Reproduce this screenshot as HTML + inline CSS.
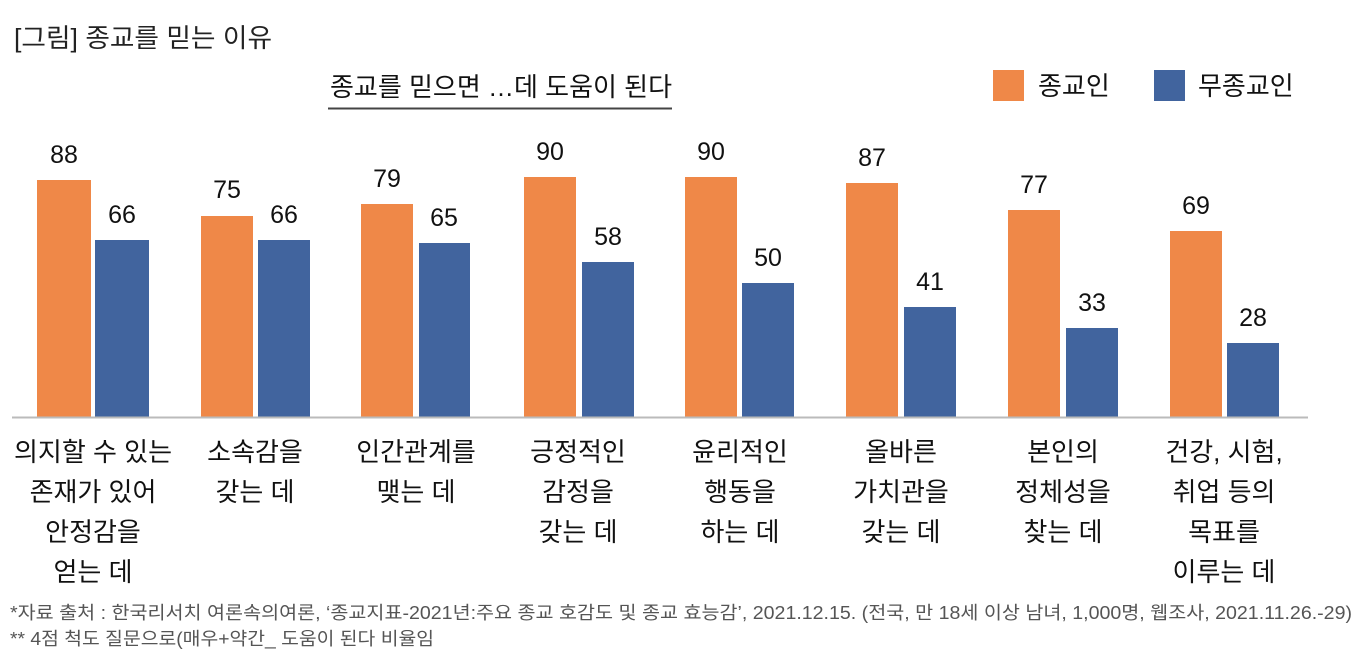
<!DOCTYPE html>
<html><head><meta charset="utf-8"><style>
html,body{margin:0;padding:0;background:#fff;}
svg{display:block;font-family:"Liberation Sans","Noto Sans CJK KR",sans-serif;}
</style></head><body>
<svg width="1370" height="670" viewBox="0 0 1370 670" xmlns="http://www.w3.org/2000/svg">
<text x="14" y="47" font-size="26" fill="#222" textLength="258" lengthAdjust="spacingAndGlyphs">[그림] 종교를 믿는 이유</text>
<text x="330" y="96" font-size="26" fill="#111" textLength="342" lengthAdjust="spacingAndGlyphs">종교를 믿으면 …데 도움이 된다</text>
<line x1="328" y1="108.5" x2="672" y2="108.5" stroke="#444" stroke-width="2"/>
<rect x="993" y="70" width="31" height="31" fill="#EF8848"/>
<text x="1038" y="95" font-size="26" fill="#111">종교인</text>
<rect x="1154" y="70" width="31" height="31" fill="#41649E"/>
<text x="1198" y="95" font-size="26" fill="#111">무종교인</text>
<g font-size="25" fill="#111" text-anchor="middle">
<rect x="37" y="180" width="54" height="237" fill="#EF8848"/><text x="64" y="163">88</text>
<rect x="95" y="240" width="54" height="177" fill="#41649E"/><text x="122" y="223">66</text>
<rect x="201" y="216" width="52" height="201" fill="#EF8848"/><text x="227" y="198">75</text>
<rect x="258" y="240" width="52" height="177" fill="#41649E"/><text x="284" y="223">66</text>
<rect x="361" y="204" width="52" height="213" fill="#EF8848"/><text x="387" y="187">79</text>
<rect x="419" y="243" width="51" height="174" fill="#41649E"/><text x="444" y="226">65</text>
<rect x="524" y="177" width="52" height="240" fill="#EF8848"/><text x="550" y="160">90</text>
<rect x="582" y="262" width="52" height="155" fill="#41649E"/><text x="608" y="245">58</text>
<rect x="685" y="177" width="52" height="240" fill="#EF8848"/><text x="711" y="160">90</text>
<rect x="742" y="283" width="52" height="134" fill="#41649E"/><text x="768" y="266">50</text>
<rect x="846" y="183" width="52" height="234" fill="#EF8848"/><text x="872" y="166">87</text>
<rect x="904" y="307" width="52" height="110" fill="#41649E"/><text x="930" y="290">41</text>
<rect x="1008" y="210" width="52" height="207" fill="#EF8848"/><text x="1034" y="193">77</text>
<rect x="1066" y="328" width="52" height="89" fill="#41649E"/><text x="1092" y="311">33</text>
<rect x="1170" y="231" width="52" height="186" fill="#EF8848"/><text x="1196" y="214">69</text>
<rect x="1227" y="343" width="52" height="74" fill="#41649E"/><text x="1253" y="326">28</text>
</g>
<line x1="12" y1="417.5" x2="1308" y2="417.5" stroke="#bbb" stroke-width="2"/>
<g font-size="26" fill="#111" text-anchor="middle">
<text x="93" y="461">의지할 수 있는</text><text x="93" y="501">존재가 있어</text><text x="93" y="541">안정감을</text><text x="93" y="581">얻는 데</text>
<text x="255" y="461">소속감을</text><text x="255" y="501">갖는 데</text>
<text x="416" y="461">인간관계를</text><text x="416" y="501">맺는 데</text>
<text x="578" y="461">긍정적인</text><text x="578" y="501">감정을</text><text x="578" y="541">갖는 데</text>
<text x="740" y="461">윤리적인</text><text x="740" y="501">행동을</text><text x="740" y="541">하는 데</text>
<text x="901" y="461">올바른</text><text x="901" y="501">가치관을</text><text x="901" y="541">갖는 데</text>
<text x="1063" y="461">본인의</text><text x="1063" y="501">정체성을</text><text x="1063" y="541">찾는 데</text>
<text x="1224" y="461">건강, 시험,</text><text x="1224" y="501">취업 등의</text><text x="1224" y="541">목표를</text><text x="1224" y="581">이루는 데</text>
</g>
<text x="10" y="619" font-size="18" fill="#555" textLength="1342" lengthAdjust="spacingAndGlyphs">*자료 출처 : 한국리서치 여론속의여론, ‘종교지표-2021년:주요 종교 호감도 및 종교 효능감’, 2021.12.15. (전국, 만 18세 이상 남녀, 1,000명, 웹조사, 2021.11.26.-29)</text>
<text x="10" y="645" font-size="18" fill="#555" textLength="424" lengthAdjust="spacingAndGlyphs">** 4점 척도 질문으로(매우+약간_ 도움이 된다 비율임</text>
</svg>
</body></html>
